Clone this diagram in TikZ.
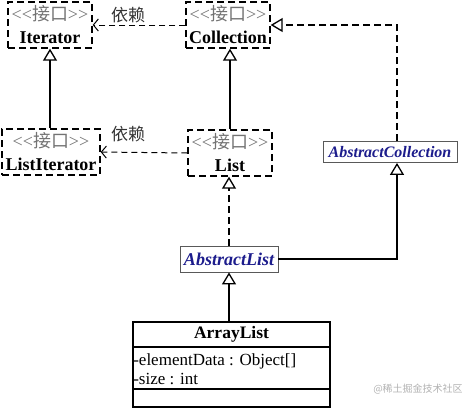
\documentclass[tikz,border=0pt]{standalone}
\usepackage{fontspec}
\setmainfont{Liberation Serif}
\newfontfamily\cjk{Noto Sans CJK SC}
\newfontfamily\plainserif{Liberation Serif}
\usetikzlibrary{arrows.meta}
\definecolor{absblue}{RGB}{28,28,140}
\newcommand{\ifacetag}{\textcolor{black!55}{\fontsize{18}{23}\selectfont\plainserif <<\cjk 接口\plainserif >>}}

\begin{document}
\begin{tikzpicture}[x=1pt, y=-1pt, semithick,
iface/.style = {draw, dash pattern=on 7pt off 4pt, line width=1.4pt, align=center, inner sep=0pt, minimum height=46pt, font=\fontsize{18}{23}\selectfont},
absclass/.style = {draw=black!65, line width=0.8pt, inner sep=0pt, minimum height=21pt, text=absblue, font=\fontsize{16}{18}\selectfont\bfseries\itshape},
gen/.style = {-{Triangle[open, length=12pt, width=14pt]}, line width=1.3pt},
real/.style = {gen, dash pattern=on 7pt off 4pt},
dep/.style = {-{Straight Barb[length=5pt, width=12pt]}, line width=1pt, dash pattern=on 6pt off 4pt},
deplabel/.style = {font=\cjk\fontsize{17}{19}\selectfont, text=black!80},
member/.style = {anchor=west, inner sep=1pt, font=\fontsize{17}{19}\selectfont}]
\useasboundingbox (0,0) rectangle (474,408);
% interfaces
\node[iface, minimum width=84pt] (iterator) at (50,25) {\ifacetag\\\textbf{Iterator}};
\node[iface, minimum width=84pt] (collection) at (228,25) {\ifacetag\\\textbf{Collection}};
\node[iface, minimum width=98pt] (listiterator) at (51,152) {\ifacetag\\\textbf{ListIterator}};
\node[iface, minimum width=84pt] (list) at (230,153) {\ifacetag\\\textbf{List}};
% abstract classes
\node[absclass, minimum width=134pt] (abscollection) at (390,152) {AbstractCollection};
\node[absclass, minimum width=98pt, minimum height=26pt, font=\fontsize{18}{20}\selectfont\bfseries\itshape] (abslist) at (229,259) {AbstractList};
% concrete class
\node[draw, line width=1.6pt, minimum width=197pt, minimum height=85pt, inner sep=0pt] (arraylist) at (231.5,364.5) {};
\draw[line width=1.6pt] (133,347) -- (330,347);
\draw[line width=1.6pt] (133,389) -- (330,389);
\node[font=\fontsize{17.5}{19}\selectfont\bfseries] (alname) at (231.5,334) {ArrayList};
\node[member] (aldata) at (132,361) {-elementData : Object[]};
\node[member] (alsize) at (132,379) {-size : int};
% connectors
\draw[gen] (listiterator.north -| iterator.south) -- (iterator.south);
\draw[gen] (list.north) -- (list.north |- collection.south);
\draw[dep] (collection.west) -- (iterator.east);
\node[deplabel] (dep1) at (128,15) {依赖};
\draw[dep] (list.west) -- (listiterator.east);
\node[deplabel] (dep2) at (128,134) {依赖};
\draw[real] ([xshift=7pt]abscollection.north) |- (collection.east);
\draw[real] (abslist.north) -- (abslist.north |- list.south);
\draw[gen] (abslist.east) -| ([xshift=7pt]abscollection.south);
\draw[gen] (arraylist.north -| abslist.south) -- (abslist.south);
% watermark
\node[font=\cjk\fontsize{10}{11}\selectfont, text=black!30] (mark) at (418,389) {@稀土掘金技术社区};
\end{tikzpicture}
\end{document}
